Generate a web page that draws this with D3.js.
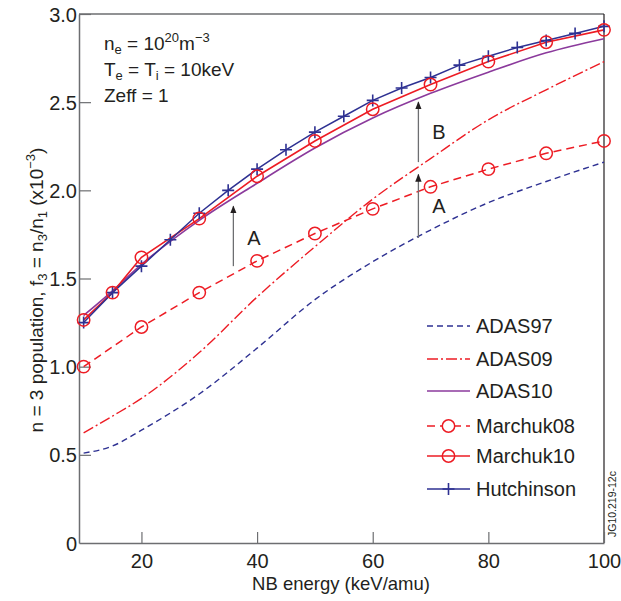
<!DOCTYPE html>
<html>
<head>
<meta charset="utf-8">
<script src="https://cdn.jsdelivr.net/npm/d3@7"></script>
<style>
  body { margin: 0; background: #fff; }
  text { font-family: "Liberation Sans", Arial, sans-serif; fill: #231f20; }
</style>
</head>
<body>
<div id="chart"></div>
<script>
// values (f3 in units of 1e-3)
var energyCoarse = [10, 20, 30, 40, 50, 60, 70, 80, 90, 100]
var energyM10 = [10, 15, 20, 30, 40, 50, 60, 70, 80, 90, 100]
var energyHutch = [10, 15, 20, 25, 30, 35, 40, 45, 50, 55, 60, 65, 70, 75, 80, 85, 90, 95, 100]

var adas97 = [0.51, 0.55, 0.64, 0.845, 1.105, 1.38, 1.595, 1.775, 1.93, 2.05, 2.16]
var adas09 = [0.625, 0.72, 0.82, 1.08, 1.395, 1.68, 1.95, 2.18, 2.40, 2.57, 2.73]
var adas10 = [1.29, 1.43, 1.58, 1.83, 2.04, 2.24, 2.41, 2.55, 2.67, 2.78, 2.86]
var marchuk08 = [1.00, 1.225, 1.42, 1.60, 1.755, 1.895, 2.02, 2.12, 2.21, 2.28]
var marchuk10 = [1.265, 1.42, 1.62, 1.84, 2.08, 2.28, 2.46, 2.60, 2.73, 2.84, 2.91]
var hutchinson = [1.25, 1.42, 1.57, 1.72, 1.87, 2.00, 2.12, 2.23, 2.33, 2.42, 2.51, 2.58, 2.64, 2.71, 2.76, 2.81, 2.85, 2.89, 2.93]

var xTicks = [20, 40, 60, 80, 100]
var yTicks = [0, 0.5, 1.0, 1.5, 2.0, 2.5, 3.0]

// arrows: [x, from, to, label, labelX, labelY]
var arrows = [
  [35.9, 1.57, 1.91, "A", 38.3, 1.73],
  [67.9, 1.73, 2.09, "A", 70.3, 1.91],
  [67.9, 2.16, 2.50, "B", 70.3, 2.33]
]

var red = "#ed1c24", blue = "#2e3192", purple = "#8b3a9c", axisCol = "#6d6e71"

var W = 621, H = 601
var svg = d3.select("#chart").append("svg").attr("width", W).attr("height", H)

var x = d3.scaleLinear().domain([9.2, 100]).range([79, 604])
var y = d3.scaleLinear().domain([0, 3]).range([543, 14])

var smooth = d3.line().x(d => x(d[0])).y(d => y(d[1])).curve(d3.curveMonotoneX)
var straight = d3.line().x(d => x(d[0])).y(d => y(d[1]))

// frame
svg.append("line").attr("x1", x(9.2)).attr("x2", x(100)).attr("y1", y(3)).attr("y2", y(3))
  .attr("stroke", axisCol).attr("stroke-width", 1.5)
svg.append("line").attr("x1", x(100)).attr("x2", x(100)).attr("y1", y(3)).attr("y2", y(0))
  .attr("stroke", "#231f20").attr("stroke-width", 1.2)

var xAxis = svg.append("g").attr("transform", "translate(0," + y(0) + ")")
  .call(d3.axisBottom(x).tickValues(xTicks).tickSizeInner(-11).tickSizeOuter(0).tickPadding(12).tickFormat(d3.format("d")))
var yAxis = svg.append("g").attr("transform", "translate(" + x(9.2) + ",0)")
  .call(d3.axisLeft(y).tickValues(yTicks).tickSizeInner(-12).tickSizeOuter(0).tickPadding(2)
    .tickFormat(d => d === 0 ? "0" : d3.format(".1f")(d)))
;[xAxis, yAxis].forEach(function(g) {
  g.selectAll(".domain").attr("stroke", axisCol).attr("stroke-width", 1.5)
  g.selectAll(".tick line").attr("stroke", axisCol).attr("stroke-width", 1.2)
  g.selectAll(".tick text").attr("font-size", 20).style("fill", "#231f20")
})
yAxis.selectAll(".tick").filter(d => d === 0).select("line").remove()
yAxis.selectAll(".tick text").attr("dy", "0.35em")
xAxis.selectAll(".tick text").attr("dy", "0.65em")

function pairs(xs, ys) { return xs.map((v, i) => [v, ys[i]]) }

var series = [
  {data: pairs(energyM10, adas97), color: blue, dash: "6,4", gen: smooth, w: 1.4},
  {data: pairs(energyM10, adas09), color: red, dash: "11,3,2,3", gen: smooth, w: 1.4},
  {data: pairs(energyM10, adas10), color: purple, dash: null, gen: smooth, w: 1.6},
  {data: pairs(energyCoarse, marchuk08), color: red, dash: "8,5", gen: straight, w: 1.5},
  {data: pairs(energyM10, marchuk10), color: red, dash: null, gen: straight, w: 1.6},
  {data: pairs(energyHutch, hutchinson), color: blue, dash: null, gen: straight, w: 1.5}
]

series.forEach(function(s) {
  svg.append("path").attr("d", s.gen(s.data)).attr("fill", "none")
    .attr("stroke", s.color).attr("stroke-width", s.w).attr("stroke-dasharray", s.dash)
})

function plusMarks(data) {
  svg.append("g").selectAll("path").data(data).join("path")
    .attr("d", d => "M" + (x(d[0]) - 6) + "," + y(d[1]) + "h12M" + x(d[0]) + "," + (y(d[1]) - 6) + "v12")
    .attr("stroke", blue).attr("stroke-width", 1.6)
}
function circleMarks(data) {
  svg.append("g").selectAll("circle").data(data).join("circle")
    .attr("cx", d => x(d[0])).attr("cy", d => y(d[1])).attr("r", 6.2)
    .attr("fill", "none").attr("stroke", red).attr("stroke-width", 1.5)
}
circleMarks(pairs(energyCoarse, marchuk08))
plusMarks(pairs(energyHutch, hutchinson))
circleMarks(pairs(energyM10, marchuk10))

// arrows
var defs = svg.append("defs")
defs.append("marker").attr("id", "head").attr("viewBox", "0 0 10 10")
  .attr("refX", 9).attr("refY", 5).attr("markerWidth", 8).attr("markerHeight", 8)
  .attr("markerUnits", "userSpaceOnUse").attr("orient", "auto")
  .append("path").attr("d", "M0,1L10,5L0,9Z").attr("fill", "#231f20")

arrows.forEach(function(a) {
  svg.append("line").attr("x1", x(a[0])).attr("x2", x(a[0]))
    .attr("y1", y(a[1])).attr("y2", y(a[2]))
    .attr("stroke", axisCol).attr("stroke-width", 1.3).attr("marker-end", "url(#head)")
  svg.append("text").attr("x", x(a[4])).attr("y", y(a[5])).attr("dy", "0.35em")
    .attr("font-size", 20).text(a[3])
})

// conditions block
var info = svg.append("g").attr("font-size", 19)
var t1 = info.append("text").attr("x", 104).attr("y", 50)
t1.append("tspan").text("n")
t1.append("tspan").attr("font-size", 13).attr("dy", 4).text("e")
t1.append("tspan").attr("dy", -4).text(" = 10")
t1.append("tspan").attr("font-size", 13).attr("dy", -8).text("20")
t1.append("tspan").attr("dy", 8).text("m")
t1.append("tspan").attr("font-size", 13).attr("dy", -8).text("\u22123")
var t2 = info.append("text").attr("x", 104).attr("y", 76)
t2.append("tspan").text("T")
t2.append("tspan").attr("font-size", 13).attr("dy", 4).text("e")
t2.append("tspan").attr("dy", -4).text(" = T")
t2.append("tspan").attr("font-size", 13).attr("dy", 4).text("i")
t2.append("tspan").attr("dy", -4).text(" = 10keV")
info.append("text").attr("x", 104).attr("y", 102).text("Zeff = 1")

// legend
var legendNames = ["ADAS97", "ADAS09", "ADAS10", "Marchuk08", "Marchuk10", "Hutchinson"]
var legendY = [326, 359, 391, 426, 456, 489]
var lg = svg.append("g")
legendNames.forEach(function(name, i) {
  var s = series[i], ly = legendY[i]
  lg.append("line").attr("x1", 427).attr("x2", 470).attr("y1", ly).attr("y2", ly)
    .attr("stroke", s.color).attr("stroke-width", s.w).attr("stroke-dasharray", s.dash)
  if (i === 3 || i === 4) {
    lg.append("circle").attr("cx", 448.5).attr("cy", ly).attr("r", 6.2)
      .attr("fill", i === 3 ? "#fff" : "none").attr("stroke", red).attr("stroke-width", 1.5)
  }
  if (i === 5) {
    lg.append("path").attr("d", "M442.5," + ly + "h12M448.5," + (ly - 6) + "v12")
      .attr("stroke", blue).attr("stroke-width", 1.6)
  }
  lg.append("text").attr("x", 476).attr("y", ly).attr("dy", "0.36em").attr("font-size", 20).text(name)
})

// axis titles
svg.append("text").attr("x", 341).attr("y", 590).attr("text-anchor", "middle")
  .attr("font-size", 18.5).text("NB energy (keV/amu)")
var yl = svg.append("text").attr("transform", "translate(43,290) rotate(-90)")
  .attr("text-anchor", "middle").attr("font-size", 19)
yl.append("tspan").text("n = 3 population, f")
yl.append("tspan").attr("font-size", 13).attr("dy", 4).text("3")
yl.append("tspan").attr("dy", -4).text(" = n")
yl.append("tspan").attr("font-size", 13).attr("dy", 4).text("3")
yl.append("tspan").attr("dy", -4).text("/n")
yl.append("tspan").attr("font-size", 13).attr("dy", 4).text("1")
yl.append("tspan").attr("dy", -4).text(" (x10")
yl.append("tspan").attr("font-size", 13).attr("dy", -8).text("\u22123")
yl.append("tspan").attr("dy", 8).text(")")

svg.append("text").attr("transform", "translate(616,537) rotate(-90)")
  .attr("font-size", 10.5).text("JG10.219-12c")
</script>
</body>
</html>
